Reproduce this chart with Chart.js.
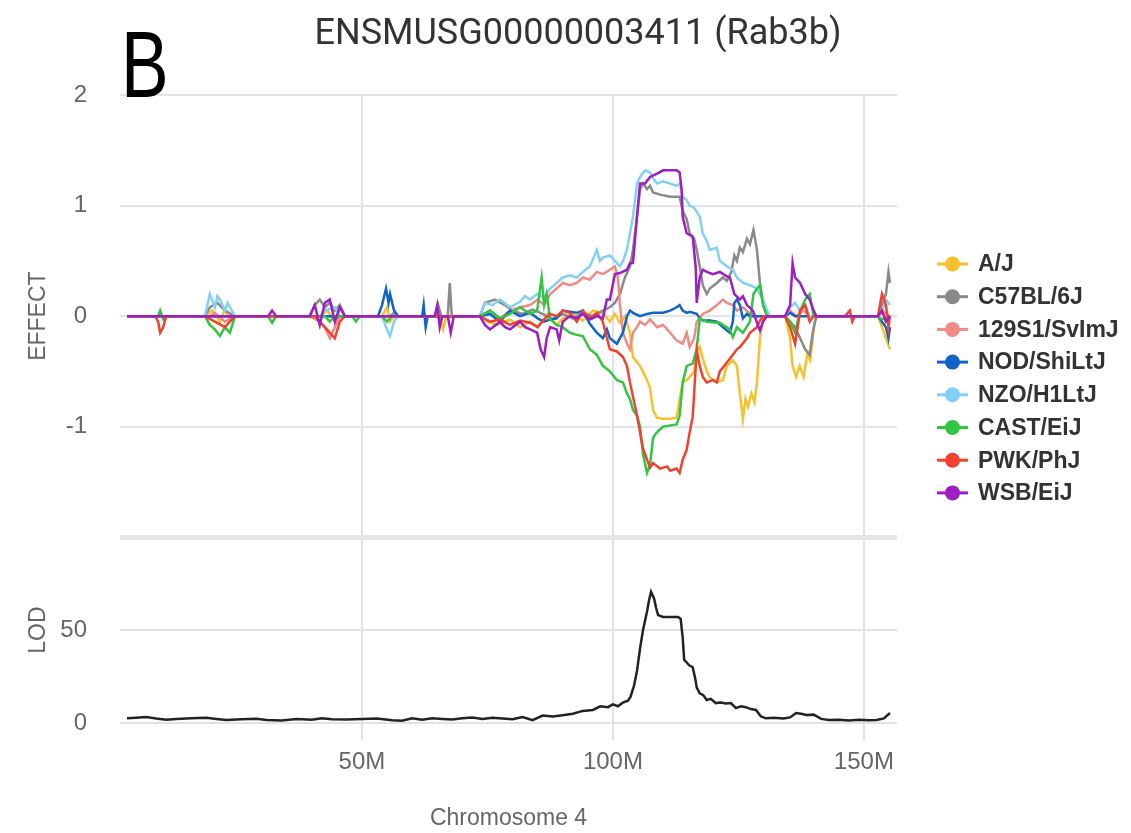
<!DOCTYPE html>
<html>
<head>
<meta charset="utf-8">
<script src="https://cdn.jsdelivr.net/npm/chart.js@4.4.1/dist/chart.umd.min.js"></script>
<style>
  html, body { margin: 0; padding: 0; background: #fff; }
  #wrap { width: 1131px; height: 833px; }
</style>
</head>
<body>
<div id="wrap"><canvas id="qtlChart" width="1131" height="833"></canvas></div>
<script>
// founder strains (legend order)
const strains = ['A/J', 'C57BL/6J', '129S1/SvImJ', 'NOD/ShiLtJ', 'NZO/H1LtJ', 'CAST/EiJ', 'PWK/PhJ', 'WSB/EiJ'];
const strainColors = ['#f5c12e', '#8a8a8a', '#f08a84', '#1163c4', '#82d0f6', '#33c443', '#f2422f', '#9d1fc1'];

// x tick labels (Mb on chromosome 4)
const xTickValues = [50, 100, 150];

// effect per strain, [position Mb, effect]
const effectAJ = [[3.2,0],[18.7,0],[20.2,0.05],[21.7,-0.05],[22.7,0.06],[23.7,-0.03],[24.7,0],[41.6,0],[43.1,0.05],[44.6,-0.05],[45.6,0],[54,0],[55,0.08],[55.6,-0.05],[56.4,0],[65.5,0],[66.2,-0.12],[66.8,0],[73.5,0],[75,-0.05],[77,-0.08],[79.5,-0.03],[81.5,-0.1],[83.5,-0.05],[85,-0.1],[87,0.02],[88.8,-0.08],[90,-0.02],[92,0.02],[94,-0.04],[96,0.05],[98,0.03],[99.4,-0.05],[100.4,0.02],[101.4,-0.06],[102.4,0],[103.4,-0.15],[104,-0.37],[105.4,-0.45],[106.8,-0.58],[107.4,-0.65],[108,-0.85],[108.8,-0.92],[110,-0.93],[111.4,-0.93],[112.7,-0.92],[113.3,-0.75],[113.9,-0.6],[114.7,-0.58],[115.3,-0.55],[116.2,-0.5],[116.7,-0.32],[117.3,-0.28],[117.9,-0.38],[118.7,-0.5],[119.3,-0.55],[120.7,-0.6],[121.9,-0.58],[122.7,-0.45],[123.9,-0.4],[124.7,-0.45],[125.3,-0.7],[125.9,-0.93],[126.4,-0.75],[126.9,-0.82],[127.6,-0.7],[128.2,-0.78],[128.7,-0.6],[129.3,-0.2],[130,0],[134.3,0],[135.3,-0.2],[135.8,-0.45],[136.5,-0.55],[137.2,-0.45],[138,-0.55],[138.7,-0.35],[139.3,-0.4],[140.2,-0.05],[140.8,0],[152.8,0],[153.6,-0.1],[154.4,-0.2],[155.2,-0.3]];
const effectB6 = [[3.2,0],[18.7,0],[19.7,0.08],[21.2,0.12],[22.7,0.05],[24.7,0],[39.6,0],[40.6,0.1],[41.6,0.15],[42.6,0.08],[43.6,0.12],[44.6,0.05],[45.6,0.1],[46.6,0],[55.6,0],[56.4,0.03],[57.2,0],[64.5,0],[65.2,0.1],[65.8,0],[67.1,0],[67.5,0.3],[67.9,0],[73.5,0],[74.5,0.12],[76.5,0.15],[78.5,0.1],[80,0.05],[82,0.02],[84,0.06],[86,0.02],[88,-0.03],[90,0.02],[92,-0.02],[94,0.03],[96,0],[98,0.05],[99.4,0.08],[100.4,0.12],[101.4,0.2],[102.4,0.35],[103.4,0.45],[104,0.6],[104.8,0.9],[105.4,1.15],[106,1.2],[106.8,1.15],[107.4,1.18],[108,1.12],[109.4,1.1],[111.4,1.08],[113.3,1.08],[113.9,0.95],[114.7,0.88],[115.3,0.75],[116.2,0.7],[116.7,0.6],[117.3,0.45],[117.9,0.28],[118.7,0.2],[119.3,0.25],[120.7,0.3],[121.9,0.35],[122.7,0.32],[123.6,0.4],[124.2,0.55],[124.7,0.5],[125.3,0.62],[125.9,0.58],[126.7,0.7],[127.3,0.65],[128,0.78],[128.7,0.6],[129.3,0.3],[130,0.1],[130.7,0],[134.3,0],[135.3,-0.05],[136.3,-0.1],[137.3,-0.2],[138.3,-0.3],[139.2,-0.35],[139.8,-0.15],[140.5,0],[152.8,0],[153.6,0.1],[154.4,0.2],[154.9,0.4],[155.2,0.3]];
const effect129 = [[3.2,0],[19.7,0],[20.7,0.03],[22.7,-0.05],[24.7,0],[39.6,0],[41.6,-0.05],[42.6,-0.1],[43.6,-0.2],[44.6,-0.1],[45.6,0],[73.5,0],[75.5,0.05],[77.5,-0.02],[79.5,0.05],[81.5,0.08],[83.5,0.1],[85,0.15],[86.3,0.1],[87.5,0.2],[88.8,0.25],[90,0.3],[91.4,0.28],[92.8,0.3],[94,0.35],[95.4,0.33],[96.8,0.4],[98,0.38],[99.4,0.42],[100.4,0.45],[101,0.35],[101.4,0.1],[102,-0.15],[102.8,-0.25],[103.4,-0.3],[104,-0.15],[104.8,-0.1],[105.4,-0.05],[106.4,-0.08],[107.4,-0.03],[108.8,-0.1],[110,-0.08],[111.4,-0.15],[112.7,-0.22],[113.9,-0.25],[114.7,-0.15],[115.3,-0.28],[116.2,-0.2],[116.7,-0.05],[117.9,0.02],[119.3,0.05],[120.7,0.1],[121.9,0.15],[122.7,0.12],[123.9,0.1],[124.7,0.05],[125.9,0.08],[127.3,0.02],[128.7,0],[134.3,0],[135.3,0.05],[136.5,0],[138,0.05],[139.2,0],[152.8,0],[153.6,0.05],[155.2,0]];
const effectNOD = [[3.2,0],[53.2,0],[54,0.1],[54.8,0.25],[55.3,0.12],[55.6,0.2],[56.4,0.05],[57.2,0],[62,0],[62.3,0.1],[62.7,-0.1],[63.1,0],[73.5,0],[75.5,0.02],[77.5,-0.05],[79.5,0.05],[81.5,0],[83.5,0.03],[85,-0.02],[86.3,-0.05],[87.5,-0.03],[88.8,-0.02],[90,0.05],[91.4,0.04],[92.8,0.03],[94,0.05],[95.4,-0.07],[96.8,-0.15],[98,-0.2],[98.8,-0.12],[99.4,-0.2],[100,-0.22],[100.8,-0.25],[101.4,-0.2],[102,-0.15],[102.8,0],[103.4,0.05],[104,0.03],[105.4,0],[106.8,0.02],[108,0.03],[110,0.03],[111.4,0.05],[112.7,0.08],[113.3,0.1],[113.9,0.05],[114.7,0.03],[115.3,0.04],[116.7,0.02],[117.3,-0.02],[117.9,-0.04],[119.3,-0.04],[120.7,-0.05],[121.9,-0.1],[122.7,-0.13],[123.3,-0.15],[123.9,-0.05],[124.2,0.12],[124.7,0.15],[125.3,0.1],[125.9,-0.02],[126.7,0.02],[127.3,0],[134.3,0],[135.3,0.03],[136.3,0],[152.8,0],[153.6,-0.05],[154.4,-0.1],[154.9,-0.2],[155.2,-0.1]];
const effectNZO = [[3.2,0],[18.7,0],[19.2,0.1],[19.7,0.2],[20.7,0.08],[21.2,0.18],[21.7,0.15],[22.7,0.05],[23.2,0.12],[24.7,0],[41.6,0],[42.6,0.05],[44.6,0.08],[45.6,0],[54,0],[54.8,-0.1],[55.6,-0.18],[56.4,-0.05],[57.2,0],[73.5,0],[74.5,0.12],[76,0.1],[77.5,0.15],[79.5,0.08],[81.5,0.13],[82.5,0.18],[83.5,0.15],[84.9,0.2],[86.3,0.17],[87.5,0.25],[88.8,0.3],[90,0.35],[91.4,0.37],[92.8,0.35],[94,0.4],[95.4,0.45],[96.8,0.6],[97.4,0.5],[98,0.53],[99.4,0.55],[100.4,0.5],[101.4,0.45],[102,0.5],[102.8,0.6],[103.4,0.75],[104,0.9],[104.8,1.2],[105.4,1.26],[106.4,1.32],[107.4,1.3],[108,1.25],[108.8,1.2],[110,1.22],[111.4,1.2],[112.7,1.18],[113.3,1.2],[113.9,1.08],[114.7,1.05],[115.3,1],[116.2,0.98],[117.3,0.9],[117.9,0.75],[118.7,0.68],[119.3,0.6],[120.7,0.62],[121.3,0.5],[121.9,0.48],[122.7,0.45],[123.9,0.42],[124.7,0.35],[125.9,0.3],[127.3,0.28],[128.7,0.25],[129.9,0.15],[130.7,0.05],[131.3,0],[134.3,0],[135.3,0.08],[136.3,0.12],[137.3,0.05],[138.3,0.1],[139.2,0],[152.8,0],[153.6,0.05],[154.4,0.15],[155.2,0.1]];
const effectCAST = [[3.2,0],[9.4,0],[9.8,0.05],[10.4,-0.03],[11,0],[18.7,0],[19.7,-0.08],[20.7,-0.12],[21.7,-0.18],[22.7,-0.1],[23.7,-0.15],[24.7,0],[31.3,0],[32.1,-0.06],[32.9,0],[42.6,0],[43.6,-0.05],[44.6,0],[48,0],[48.8,-0.05],[49.6,0],[54,0],[55,-0.05],[56,0],[73.5,0],[75.5,0.05],[77.5,-0.02],[79.5,0.02],[81.5,0.08],[83.5,0.02],[84.9,0.05],[85.8,0.35],[86.3,0.1],[86.8,0.2],[87.5,-0.03],[88.8,-0.08],[90,-0.1],[91.4,-0.15],[92.8,-0.17],[94,-0.18],[95.4,-0.3],[96.8,-0.35],[98,-0.45],[99.4,-0.5],[100.8,-0.58],[102,-0.6],[102.8,-0.7],[103.4,-0.75],[104,-0.85],[104.8,-0.9],[105.4,-1],[106,-1.25],[106.8,-1.42],[107.4,-1.35],[108,-1.1],[108.8,-1.05],[110,-1],[112.7,-0.98],[113.3,-0.9],[113.9,-0.6],[114.7,-0.45],[115.9,-0.43],[116.7,-0.3],[117.3,-0.02],[118.7,-0.05],[121.3,-0.06],[123.3,-0.12],[123.9,-0.19],[124.7,-0.1],[125.9,-0.15],[127.3,-0.05],[128,0.2],[128.7,0.25],[129.3,0.28],[129.9,0.1],[130.7,0],[134.3,0],[135.3,-0.05],[136.3,-0.15],[137.3,0.05],[138.3,0.15],[139.2,0.2],[140,0],[152.8,0],[153.6,-0.03],[155.2,0]];
const effectPWK = [[3.2,0],[8.8,0],[9.4,-0.05],[9.8,-0.15],[10.4,-0.1],[11,0],[18.7,0],[20.7,-0.05],[22.7,-0.1],[24.7,0],[40.6,0],[42.6,-0.1],[43.6,-0.15],[44.6,-0.2],[45.6,-0.05],[46.6,0],[73.5,0],[75.5,-0.05],[77.5,-0.03],[79.5,-0.08],[81.5,-0.04],[83.5,-0.06],[85,-0.1],[86.3,-0.03],[87.5,0.02],[88.8,0],[90,0.05],[91.4,0.03],[92.8,-0.05],[94,0.05],[95.4,-0.02],[96.8,0.03],[98,-0.05],[98.8,-0.2],[99.4,-0.3],[100.8,-0.32],[102,-0.37],[102.8,-0.45],[103.4,-0.6],[104.8,-0.9],[106,-1.2],[106.8,-1.3],[107.4,-1.37],[108,-1.33],[109.4,-1.38],[110.8,-1.36],[111.4,-1.4],[112.7,-1.38],[113.3,-1.42],[113.9,-1.3],[114.7,-1.21],[115.3,-1.05],[115.9,-0.91],[116.7,-0.31],[117.3,-0.45],[117.9,-0.55],[118.7,-0.6],[119.9,-0.58],[120.7,-0.6],[121.3,-0.5],[122.7,-0.42],[123.9,-0.35],[124.7,-0.3],[125.3,-0.28],[126.7,-0.2],[127.3,-0.15],[128.7,-0.1],[129.3,-0.04],[130,0],[134.3,0],[135.3,-0.1],[136.3,-0.25],[137.3,0.05],[138.3,0.1],[139.2,-0.05],[140,0],[146.2,0],[147.2,0.05],[147.7,-0.05],[148.2,0],[152.8,0],[153.6,0.2],[154.4,0.1],[154.9,-0.1],[155.2,0]];
const effectWSB = [[3.2,0],[31.3,0],[32.1,0.05],[32.9,0],[39.6,0],[40.6,0.1],[41.6,-0.08],[42.6,0.12],[43.6,0.15],[44.6,-0.05],[45.6,0.08],[46.6,0],[64.5,0],[65,0.1],[65.5,-0.1],[66,0],[67.1,0],[67.7,-0.15],[68.3,0],[73.5,0],[74.5,-0.08],[75.5,-0.12],[77.5,-0.05],[78.5,-0.1],[79.5,-0.12],[81.5,-0.05],[82.5,-0.1],[83.5,-0.12],[84.9,-0.15],[85.6,-0.3],[86.3,-0.37],[86.8,-0.2],[87.5,-0.1],[88.8,-0.12],[89.3,-0.22],[90,-0.05],[91.4,0],[92.8,-0.02],[94,0.02],[95.4,-0.03],[96.8,0],[98,-0.02],[98.8,0.15],[99.4,0.15],[100.4,0.38],[101.4,0.39],[102.8,0.42],[103.4,0.48],[104,0.48],[104.8,0.9],[105.4,1.2],[106.4,1.2],[107.4,1.26],[108.8,1.29],[110,1.32],[111.4,1.32],[112.7,1.32],[113.3,1.3],[113.7,1.14],[113.9,0.9],[114.7,0.75],[115.9,0.72],[116.5,0.44],[116.7,0.12],[117.3,0.35],[117.9,0.42],[118.7,0.4],[119.9,0.38],[121.3,0.4],[122.7,0.36],[123.3,0.35],[124.2,0.2],[125.3,0.15],[125.9,0.18],[126.7,0.1],[127.9,0.05],[128.7,-0.06],[129.3,-0.13],[129.9,-0.05],[130.7,0],[134.3,0],[135.3,0.1],[135.8,0.48],[136.3,0.35],[137.3,0.3],[138.3,0.2],[139.2,0.15],[140,0.05],[140.5,0],[152.8,0],[153.6,0.05],[154.4,-0.05],[155.2,0]];
const strainEffects = [effectAJ, effectB6, effect129, effectNOD, effectNZO, effectCAST, effectPWK, effectWSB];

// LOD profile, [position Mb, LOD]
const lodScores = [[3.2,2.5],[5,2.8],[7,3.2],[9,2.4],[11,1.8],[13,2.2],[16,2.5],[19,2.8],[21,2.2],[23,1.6],[26,2],[29,2.3],[31,1.6],[34,1.4],[37,2.2],[40,1.8],[42,2.6],[44,2],[47,1.9],[50,2.2],[53,2.4],[56,1.5],[58,1.2],[60,2.5],[62,1.8],[64,2.6],[66,2.2],[68,1.9],[70,2.6],[72,2.9],[74,2.2],[76,2.8],[78,2.4],[80,2],[82,3.2],[84,1.5],[86,4],[88,3.5],[90,4.2],[92,5],[94,6.5],[96,7],[97.5,9],[99,8.5],[100,10],[101,9],[102,11],[103,12],[103.5,14],[104.2,20],[104.8,28],[105.4,40],[106,50],[106.8,60],[107.2,66],[107.6,70.5],[108.2,67],[108.6,62],[109,58],[110,57],[111.5,57],[113,57],[113.5,56],[113.9,46],[114.2,34],[115.2,31],[115.9,30],[116.4,24],[116.7,19],[117.3,16],[118,15],[118.7,12.4],[119.5,13],[120.5,10.7],[121.5,11],[122.5,10.5],[123.5,10.7],[124.5,8],[125.5,9],[126.5,8.5],[127.5,7.5],[128.5,7],[129.5,3.5],[130.5,2.5],[132,2.8],[134,2.4],[135.3,3],[136.5,5.4],[137.5,5],[138.5,4.3],[140,4.5],[141.5,2.2],[143,1.6],[145,1.8],[147,1.4],[149,1.8],[151,1.5],[152.5,1.6],[154,2.5],[155.2,5.4]];

const toPoints = arr => arr.map(([x, y]) => ({ x, y }));

const datasets = strains.map((name, i) => ({
    label: name,
    data: toPoints(strainEffects[i]),
    borderColor: strainColors[i],
    backgroundColor: strainColors[i],
    borderWidth: 2.5,
    pointRadius: 0,
    tension: 0,
    yAxisID: 'yEffect',
    order: strains.length - i + 1
}));
datasets.push({
    label: 'LOD',
    data: toPoints(lodScores),
    borderColor: '#222',
    borderWidth: 2.5,
    pointRadius: 0,
    tension: 0,
    yAxisID: 'yLod',
    order: 0
});

const tickFont = { family: 'Liberation Sans, Arial, sans-serif', size: 24 };
const axisTitleFont = { family: 'Liberation Sans, Arial, sans-serif', size: 23 };

// legend with line+dot markers on the right, plus panel letter
const sideLegend = {
    id: 'sideLegend',
    afterDraw(chart) {
        const ctx = chart.ctx;
        ctx.save();
        chart.data.datasets.filter(d => d.yAxisID === 'yEffect').forEach((ds, i) => {
            const y = 264 + i * 32.7;
            ctx.strokeStyle = ds.borderColor;
            ctx.lineWidth = 3;
            ctx.beginPath();
            ctx.moveTo(937, y);
            ctx.lineTo(968, y);
            ctx.stroke();
            ctx.fillStyle = ds.borderColor;
            ctx.beginPath();
            ctx.arc(952.5, y, 7.5, 0, Math.PI * 2);
            ctx.fill();
            ctx.fillStyle = '#333';
            ctx.font = 'bold 23px "Liberation Sans", Arial, sans-serif';
            ctx.textBaseline = 'middle';
            ctx.textAlign = 'left';
            ctx.fillText(ds.label, 978, y + 1);
        });
        // panel letter, narrowed to match the figure
        ctx.translate(121, 97);
        ctx.scale(0.76, 1);
        ctx.fillStyle = '#000';
        ctx.font = '94px "Liberation Sans", Arial, sans-serif';
        ctx.textBaseline = 'alphabetic';
        ctx.fillText('B', 0, 0);
        ctx.restore();
    }
};

new Chart(document.getElementById('qtlChart'), {
    type: 'line',
    data: { datasets },
    plugins: [sideLegend],
    options: {
        responsive: false,
        animation: false,
        layout: { padding: { left: 25, top: 0, bottom: 0, right: 0 } },
        plugins: {
            legend: { display: false },
            tooltip: { enabled: false },
            title: {
                display: true,
                text: 'ENSMUSG00000003411 (Rab3b)',
                color: '#333',
                font: { family: 'Roboto, sans-serif', size: 36, weight: 'normal' },
                padding: { top: 13, bottom: 39 }
            }
        },
        scales: {
            x: {
                type: 'linear',
                min: 1.8,
                max: 156.6,
                afterBuildTicks: s => { s.ticks = xTickValues.map(v => ({ value: v })); },
                afterFit: s => { s.height = 110; },
                ticks: {
                    color: '#666',
                    font: tickFont,
                    padding: 8,
                    maxRotation: 0,
                    callback: v => v + 'M'
                },
                grid: { color: '#e2e2e6', lineWidth: 2, drawTicks: true, tickLength: 17 },
                border: { display: false },
                title: {
                    display: true,
                    text: 'Chromosome 4',
                    color: '#666',
                    font: axisTitleFont,
                    padding: { top: 0, bottom: 1 }
                }
            },
            yLod: {
                type: 'linear',
                position: 'left',
                stack: 'panels',
                stackWeight: 186,
                weight: 0,
                min: 0,
                max: 100,
                afterFit: s => { s.width = 95; },
                ticks: {
                    stepSize: 50,
                    color: '#666',
                    font: tickFont,
                    padding: 33,
                    callback: v => (v === 100 ? '' : v)
                },
                grid: {
                    drawTicks: false,
                    lineWidth: 2,
                    color: c => (c.tick && c.tick.value === 100 ? 'rgba(0,0,0,0)' : '#e2e2e6')
                },
                border: { display: false },
                title: { display: true, text: 'LOD', color: '#666', font: axisTitleFont, padding: { top: 0, bottom: 0 } }
            },
            yEffect: {
                type: 'linear',
                position: 'left',
                stack: 'panels',
                stackWeight: 442,
                weight: 1,
                min: -2,
                max: 2,
                afterFit: s => { s.width = 95; },
                ticks: {
                    stepSize: 1,
                    color: '#666',
                    font: tickFont,
                    padding: 33,
                    callback: v => (v === -2 ? '' : v)
                },
                grid: {
                    drawTicks: false,
                    lineWidth: c => (c.tick && c.tick.value === -2 ? 5 : 2),
                    color: c => (c.tick && c.tick.value === -2 ? '#e6e6e6' : '#e4e4e4')
                },
                border: { display: false },
                title: { display: true, text: 'EFFECT', color: '#666', font: axisTitleFont, padding: 0 }
            },
            spacer: {
                type: 'linear',
                position: 'right',
                display: true,
                afterFit: s => { s.width = 234; },
                ticks: { display: false },
                grid: { display: false },
                border: { display: false }
            }
        }
    }
});
</script>
</body>
</html>
